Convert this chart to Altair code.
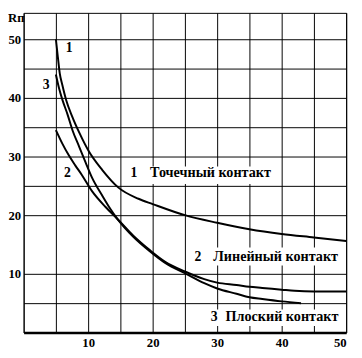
import altair as alt
import pandas as pd

# --- curve data ---
curve1_x = [5, 5.3, 5.6, 6, 6.6, 7.5, 8.7, 10.1, 12.2, 14.7, 17.8, 20, 25, 30, 35, 40, 45, 50]
curve1_y = [50, 47, 44.2, 42.2, 39.6, 36.9, 33.9, 30.9, 27.7, 24.7, 22.8, 21.9, 20.0, 18.7, 17.6, 16.8, 16.2, 15.6]

curve2_x = [5, 6, 7, 8, 9, 10.6, 12.7, 14.5, 17, 19.6, 22, 25, 28, 30, 33, 35, 37, 40, 42, 45, 50]
curve2_y = [34.5, 32.2, 30.2, 28.5, 26.9, 24.1, 21.4, 19.4, 16.5, 14.0, 12.0, 10.4, 9.1, 8.5, 8.1, 7.8, 7.6, 7.3, 7.1, 7.0, 7.0]

curve3_x = [5, 5.5, 6, 6.8, 7.6, 8.6, 9.6, 10.6, 12.2, 13.3, 14.5, 17, 19.6, 22, 25, 28, 30, 33, 35, 37, 40, 43]
curve3_y = [44, 41.6, 39.7, 37.2, 34.4, 31.7, 29.0, 26.4, 23.3, 21.3, 19.4, 16.3, 13.8, 11.8, 10.1, 8.4, 7.5, 6.6, 6.0, 5.7, 5.3, 5.0]

curve_ids = ["1", "2", "3"]

# --- axes ---
x_grid = [5, 10, 15, 20, 25, 30, 35, 40, 45, 50]
y_grid = [5, 10, 20, 25, 30, 35, 40, 45, 50]
y_title = "Rп"

# --- annotations ---
num_text = ["1", "3", "2", "1", "2", "3"]
num_x = [7.06, 3.5, 6.8, 17.1, 27.0, 29.55]
num_y = [48.5, 42.1, 27.2, 27.1, 12.85, 2.57]

name_text = ["Точечный контакт", "Линейный контакт", "Плоский контакт"]
name_x = [19.6, 29.4, 31.3]
name_y = [27.1, 12.85, 2.57]

box_x0 = [15.9, 25.8, 28.5]
box_x1 = [39.1, 49.4, 49.4]
box_y0 = [25.3, 11.4, 1.1]
box_y1 = [28.3, 14.5, 3.9]

rows = []
for cid, xs, ys in zip(curve_ids, [curve1_x, curve2_x, curve3_x], [curve1_y, curve2_y, curve3_y]):
    for xv, yv in zip(xs, ys):
        rows.append({"curve": cid, "x": xv, "y": yv})
curves = pd.DataFrame(rows)
nums = pd.DataFrame({"t": num_text, "x": num_x, "y": num_y})
names = pd.DataFrame({"t": name_text, "x": name_x, "y": name_y})
boxes = pd.DataFrame({"x": box_x0, "x2": box_x1, "y": box_y0, "y2": box_y1})
ytitle = pd.DataFrame({"t": [y_title]})

FONT = "'Liberation Serif', 'Times New Roman', serif"

xscale = alt.Scale(domain=[0, 50], nice=False, zero=False)
yscale = alt.Scale(domain=[0, 54.5], nice=False, zero=False)

xaxis = alt.Axis(values=x_grid, labelExpr="datum.value % 10 === 0 ? datum.label : ''",
                 grid=True, gridColor="black", gridWidth=1, gridOpacity=1,
                 ticks=False, domainColor="black", domainWidth=2.5,
                 labelFont=FONT, labelFontWeight="bold", labelFontSize=13,
                 labelColor="black", labelPadding=4, labelOverlap=False, title=None)
yaxis = alt.Axis(values=y_grid, labelExpr="datum.value % 10 === 0 ? datum.label : ''",
                 grid=True, gridColor="black", gridWidth=1, gridOpacity=1,
                 ticks=False, domainColor="black", domainWidth=1,
                 labelFont=FONT, labelFontWeight="bold", labelFontSize=13,
                 labelColor="black", labelPadding=3, labelOverlap=False, title=None)

X = alt.X("x:Q", scale=xscale, axis=xaxis)
Y = alt.Y("y:Q", scale=yscale, axis=yaxis)

rects = alt.Chart(boxes).mark_rect(color="white").encode(x=X, x2="x2:Q", y=Y, y2="y2:Q")

lines = alt.Chart(curves).mark_line(color="black", strokeWidth=2, interpolate="monotone").encode(
    x=X, y=Y, detail="curve:N")

numbers = alt.Chart(nums).mark_text(font=FONT, fontWeight="bold", fontSize=14, color="black",
                                    align="center", baseline="middle").encode(x=X, y=Y, text="t:N")

labels = alt.Chart(names).mark_text(font=FONT, fontWeight="bold", fontSize=14.5, color="black",
                                    align="left", baseline="middle").encode(x=X, y=Y, text="t:N")

rp = alt.Chart(ytitle).mark_text(font=FONT, fontWeight="bold", fontSize=13, color="black",
                                 align="left", baseline="top").encode(
    x=alt.value(-16), y=alt.value(-1), text="t:N")

chart = alt.layer(rects, lines, numbers, labels, rp).properties(
    width=330, height=327,
    padding={"left": 16, "top": 1, "right": 8, "bottom": 16},
    autosize=alt.AutoSizeParams(type="none"),
).configure(background="white").configure_view(stroke="black", strokeWidth=1)

chart.save("out.html", embed_options={"renderer": "svg", "actions": False})
